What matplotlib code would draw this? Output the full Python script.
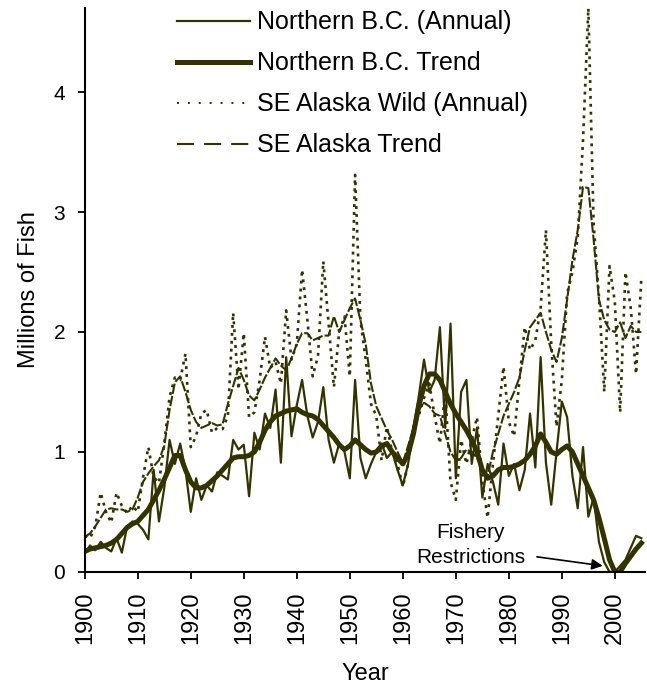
import numpy as np
import matplotlib
matplotlib.use("Agg")
import matplotlib.pyplot as plt
from matplotlib.lines import Line2D

plt.rcParams['font.family'] = ['Liberation Sans', 'DejaVu Sans']

years = np.arange(1900, 2006)

# Northern B.C. annual returns (millions)
nbc_annual = [0.15, 0.22, 0.18, 0.25, 0.20, 0.17, 0.28, 0.16, 0.38, 0.42,
              0.40, 0.35, 0.27, 0.85, 0.42, 0.70, 1.10, 0.90, 1.07, 0.85,
              0.50, 0.78, 0.60, 0.72, 0.67, 0.83, 0.80, 0.77, 1.10, 1.02,
              1.06, 0.63, 1.16, 1.02, 1.32, 1.20, 1.52, 0.91, 1.79, 1.13,
              1.39, 1.60, 1.30, 1.12, 1.25, 1.54, 1.10, 0.91, 1.07, 1.00,
              0.78, 1.60, 0.95, 0.78, 0.90, 1.00, 1.07, 0.95, 1.00, 0.85,
              0.72, 0.90, 1.20, 1.46, 1.77, 1.50, 1.60, 2.04, 1.20, 2.07,
              0.78, 1.50, 1.60, 0.90, 1.20, 0.62, 0.90, 0.75, 0.56, 1.07,
              0.80, 0.90, 0.68, 0.85, 1.32, 0.87, 1.79, 0.91, 0.56, 1.00,
              1.42, 1.29, 0.80, 0.53, 1.04, 0.46, 0.62, 0.25, 0.08, 0.00,
              0.00, 0.05, 0.10, 0.20, 0.30, 0.28]

nbc_trend = [0.17, 0.19, 0.20, 0.21, 0.22, 0.24, 0.27, 0.32, 0.37, 0.40,
             0.42, 0.47, 0.52, 0.60, 0.68, 0.77, 0.87, 0.97, 0.97, 0.85,
             0.75, 0.70, 0.70, 0.72, 0.76, 0.80, 0.85, 0.90, 0.95, 0.96,
             0.96, 0.97, 1.00, 1.08, 1.18, 1.25, 1.30, 1.32, 1.34, 1.35,
             1.36, 1.33, 1.31, 1.30, 1.27, 1.22, 1.17, 1.12, 1.06, 1.02,
             1.05, 1.10, 1.06, 1.02, 0.99, 1.00, 1.05, 1.07, 1.00, 0.95,
             0.90, 0.98, 1.15, 1.38, 1.55, 1.65, 1.65, 1.60, 1.50, 1.40,
             1.32, 1.25, 1.18, 1.10, 1.00, 0.85, 0.78, 0.80, 0.85, 0.87,
             0.87, 0.88, 0.90, 0.93, 0.98, 1.05, 1.15, 1.08, 1.00, 0.98,
             1.02, 1.05, 1.00, 0.90, 0.80, 0.70, 0.60, 0.45, 0.28, 0.10,
             0.00, 0.00, 0.07, 0.13, 0.19, 0.24]

# SE Alaska wild returns (millions)
sea_annual = [0.30, 0.28, 0.38, 0.66, 0.50, 0.41, 0.66, 0.55, 0.49, 0.55,
              0.50, 0.79, 1.04, 0.79, 0.74, 1.07, 1.46, 1.62, 1.60, 1.82,
              1.04, 1.13, 1.32, 1.35, 1.16, 1.20, 1.19, 1.30, 2.16, 1.52,
              1.99, 1.29, 1.33, 1.60, 1.96, 1.70, 1.75, 1.57, 2.18, 1.77,
              1.90, 2.52, 2.10, 1.63, 1.80, 2.59, 2.07, 1.54, 2.00, 2.13,
              1.63, 3.31, 2.10, 1.77, 1.40, 1.30, 0.93, 1.21, 1.00, 0.90,
              0.71, 0.90, 1.21, 1.30, 1.45, 1.57, 1.30, 1.07, 1.50, 0.75,
              0.60, 1.10, 0.90, 1.10, 1.29, 0.75, 0.45, 0.90, 1.30, 1.71,
              1.25, 1.13, 1.60, 2.04, 1.85, 1.93, 2.20, 2.85, 1.90, 1.21,
              1.60, 2.32, 2.50, 2.79, 3.60, 4.70, 2.90, 2.30, 1.50, 2.55,
              2.25, 1.33, 2.50, 2.20, 1.65, 2.45]

sea_trend = [0.29, 0.32, 0.38, 0.45, 0.52, 0.53, 0.52, 0.52, 0.50, 0.52,
             0.62, 0.75, 0.82, 0.88, 0.93, 1.05, 1.35, 1.58, 1.63, 1.50,
             1.35, 1.25, 1.20, 1.22, 1.24, 1.22, 1.23, 1.40, 1.55, 1.70,
             1.60, 1.47, 1.43, 1.52, 1.62, 1.70, 1.78, 1.72, 1.68, 1.78,
             1.90, 1.99, 1.99, 1.93, 1.95, 1.97, 1.97, 2.13, 2.00, 2.10,
             2.20, 2.28, 2.10, 1.90, 1.57, 1.38, 1.28, 1.18, 1.10, 1.00,
             0.91, 1.05, 1.20, 1.35, 1.41, 1.38, 1.32, 1.30, 1.15, 1.00,
             0.93, 0.95, 1.02, 1.00, 0.95, 0.85, 0.80, 1.00, 1.15, 1.30,
             1.40, 1.50, 1.62, 1.85, 2.04, 2.10, 2.16, 2.00, 1.85, 1.75,
             1.95, 2.27, 2.60, 2.85, 3.21, 3.20, 2.77, 2.27, 2.10, 2.02,
             2.00, 2.08, 1.95, 2.05, 2.00, 2.00]

col = '#333300'

fig = plt.figure(figsize=(6.47, 6.84), dpi=100)
ax = fig.add_axes([0.131, 0.164, 0.866, 0.824])

ax.plot(years, sea_annual, color=col, lw=1.9, linestyle=(0, (1.1, 1.9)))
ax.plot(years, sea_trend, color=col, lw=1.5, linestyle=(0, (5, 1)))
ax.plot(years, nbc_annual, color=col, lw=1.6)
ax.plot(years, nbc_trend, color=col, lw=3.6)

ax.set_xlim(1900, 2005.7)
ax.set_ylim(0, 4.7)
ax.set_xticks(range(1900, 2001, 10))
ax.set_yticks([0, 1, 2, 3, 4])
ax.tick_params(axis='x', labelrotation=90, labelsize=17, length=5, width=1.3, pad=9)
ax.tick_params(axis='y', labelsize=15, length=5, width=1.3, pad=9)
for s in ['top', 'right']:
    ax.spines[s].set_visible(False)
for s in ['left', 'bottom']:
    ax.spines[s].set_linewidth(1.5)

ax.set_xlabel('Year', fontsize=17, labelpad=14)
ax.set_ylabel('Millions of Fish', fontsize=17, labelpad=10)

handles = [
    Line2D([], [], color=col, lw=1.6),
    Line2D([], [], color=col, lw=3.6),
    Line2D([], [], color=col, lw=1.4, linestyle=(0, (1.0, 4.6))),
    Line2D([], [], color=col, lw=1.5, linestyle=(0, (8.2, 4.8))),
]
labels = ['Northern B.C. (Annual)', 'Northern B.C. Trend',
          'SE Alaska Wild (Annual)', 'SE Alaska Trend']
fig.legend(handles, labels, loc='upper left', bbox_to_anchor=(0.2736, 0.985),
           frameon=False, fontsize=18, handlelength=2.9, handletextpad=0.28,
           labelspacing=0.68, borderaxespad=0, borderpad=0)

ax.text(1972.8, 0.22, 'Fishery\nRestrictions', fontsize=15, ha='center',
        va='center', linespacing=1.4)
ax.annotate('', xy=(1997.7, 0.05), xytext=(1985.3, 0.125),
            arrowprops=dict(arrowstyle='-|>', color='black', lw=1.2,
                            mutation_scale=16, shrinkA=0, shrinkB=0))

fig.savefig('out.png', dpi=100)
